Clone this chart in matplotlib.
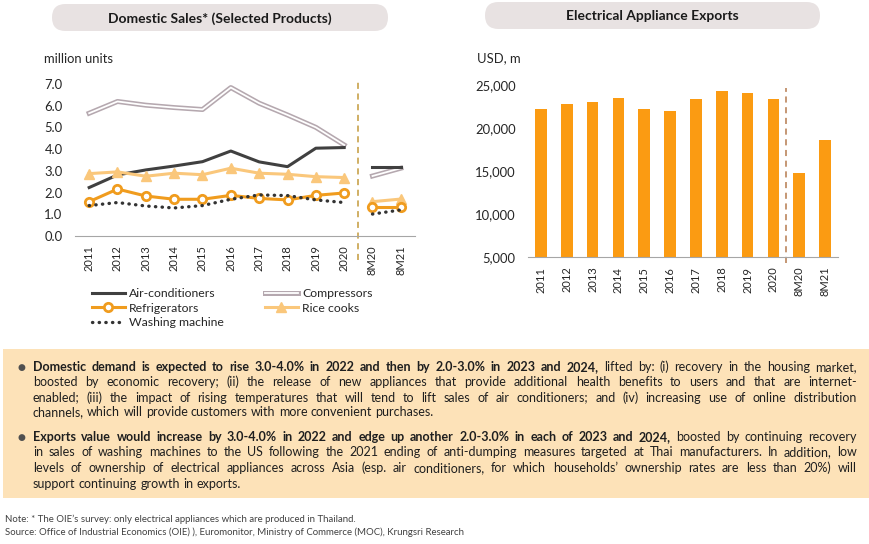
"""Domestic sales and exports of electrical appliances, with outlook notes."""
import matplotlib
matplotlib.use("Agg")
import matplotlib.pyplot as plt
import matplotlib.patheffects as pe
from matplotlib.patches import FancyBboxPatch, Rectangle
import numpy as np

plt.rcParams['font.family'] = ['Lato', 'DejaVu Sans']

# data
periods = ['2011', '2012', '2013', '2014', '2015', '2016', '2017', '2018',
           '2019', '2020', '8M20', '8M21']
air_conditioners = [2.23, 2.81, 3.04, 3.22, 3.42, 3.91, 3.41, 3.19, 4.04, 4.07, 3.17, 3.17]
compressors = [5.65, 6.19, 6.02, 5.91, 5.82, 6.83, 6.11, 5.57, 5.00, 4.19, 2.76, 3.12]
refrigerators = [1.58, 2.16, 1.84, 1.69, 1.69, 1.87, 1.73, 1.66, 1.87, 1.98, 1.34, 1.34]
rice_cooks = [2.87, 2.95, 2.75, 2.89, 2.82, 3.12, 2.89, 2.84, 2.73, 2.69, 1.58, 1.70]
washing_machine = [1.40, 1.54, 1.38, 1.29, 1.40, 1.69, 1.89, 1.86, 1.66, 1.54, 1.01, 1.20]
exports = [22230, 22820, 23050, 23520, 22310, 22080, 23440, 24340, 24180, 23440, 14830, 18600]

bullet_1 = [
    [("Domestic demand is expected to rise 3.0-4.0% in 2022 and then by 2.0-3.0% in 2023 and 2024,", True),
     ("lifted by: (i) recovery in the housing market,", False)],
    [("boosted by economic recovery; (ii) the release of new appliances that provide additional health "
      "benefits to users and that are internet-", False)],
    [("enabled; (iii) the impact of rising temperatures that will tend to lift sales of air conditioners; "
      "and (iv) increasing use of online distribution", False)],
    [("channels, which will provide customers with more convenient purchases.", False)],
]
bullet_2 = [
    [("Exports value would increase by 3.0-4.0% in 2022 and edge up another 2.0-3.0% in each of 2023 and 2024,", True),
     ("boosted by continuing recovery", False)],
    [("in sales of washing machines to the US following the 2021 ending of anti-dumping measures targeted "
      "at Thai manufacturers. In addition, low", False)],
    [("levels of ownership of electrical appliances across Asia (esp. air conditioners, for which "
      "households\u2019 ownership rates are less than 20%) will", False)],
    [("support continuing growth in exports.", False)],
]

W, H = 870, 544
fig = plt.figure(figsize=(W / 100, H / 100), dpi=100)

# background canvas in pixel coordinates
bg = fig.add_axes([0, 0, 1, 1], zorder=-1)
bg.set_xlim(0, W)
bg.set_ylim(H, 0)
bg.axis('off')


def px_axes(left, top, right, bottom):
    return fig.add_axes([left / W, 1 - bottom / H, (right - left) / W, (bottom - top) / H])


def style(ax, ylim, yticks, yfmt, xpad):
    ax.set_xlim(-0.5, len(periods) - 0.5)
    ax.set_ylim(*ylim)
    for s in ['left', 'right', 'top']:
        ax.spines[s].set_visible(False)
    ax.spines['bottom'].set_color('#a6a6a6')
    ax.set_yticks(yticks, [yfmt.format(v) for v in yticks])
    ax.set_xticks(range(len(periods)), periods, rotation=90)
    ax.tick_params(axis='y', length=0, pad=9, labelsize=9.4, labelcolor='#262626')
    ax.tick_params(axis='x', length=0, pad=xpad, labelsize=8, labelcolor='#262626')
    ax.patch.set_alpha(0)


x = np.arange(len(periods))

# Left: domestic sales lines
ax1 = px_axes(75, 73, 415, 236)
style(ax1, (0, 7.5), np.arange(0, 8), "{:.1f}", 6.5)


def plot_series(vals, label, **kw):
    vals = np.asarray(vals)
    first = None
    for sl in (slice(0, 10), slice(10, 12)):
        line, = ax1.plot(x[sl], vals[sl], label=label if first is None else None, **kw)
        first = first or line
    return first


h_comp = plot_series(compressors, 'Compressors', color='white', lw=1.3,
                     path_effects=[pe.Stroke(linewidth=3.6, foreground='#b5a8af'), pe.Normal()])
h_ac = plot_series(air_conditioners, 'Air-conditioners', color='#404040', lw=2.2)
h_rice = plot_series(rice_cooks, 'Rice cooks', color='#fac77b', lw=2.2, marker='^', ms=6.5)
h_ref = plot_series(refrigerators, 'Refrigerators', color='#f09c1e', lw=2.2, marker='o', ms=6,
                    mfc='white', mew=2)
h_wash = plot_series(washing_machine, 'Washing machine', color='#333333', lw=2.4, ls=(0, (0.1, 1.9)),
                     dash_capstyle='round')
ax1.axvline(9.5, ymin=-0.147, ymax=0.957, clip_on=False, color='#c39a3a', lw=1.1, ls=(0, (4, 3)))

# Right: exports bars
ax2 = px_axes(528, 77, 838, 257)
style(ax2, (5000, 26000), np.arange(5000, 25001, 5000), "{:,}", 7)
ax2.bar(x, exports, width=0.45, color='#fb9b12')
ax2.axvline(9.5, ymin=-0.035, ymax=0.939, clip_on=False, color='#b57a4e', lw=1.1, ls=(0, (4, 3)))

bg.text(44, 59, 'million units', va='center', fontsize=9.4, color='#262626')
bg.text(477, 58, 'USD, m', va='center', fontsize=9.4, color='#262626')

# legend, two columns placed separately
leg_kw = dict(loc='upper left', bbox_transform=bg.transData, frameon=False, fontsize=8.8,
              borderpad=0, borderaxespad=0, handlelength=2.7, handletextpad=0.33,
              labelspacing=0.3, labelcolor='#262626')
leg1 = bg.legend([h_ac, h_ref, h_wash], ['Air-conditioners', 'Refrigerators', 'Washing machine'],
                 bbox_to_anchor=(92, 288), **leg_kw)
bg.add_artist(leg1)
bg.legend([h_comp, h_rice], ['Compressors', 'Rice cooks'], bbox_to_anchor=(265, 288), **leg_kw)

# title pills
for (x0, y0, x1, y1), title in [((52, 4, 388, 31), 'Domestic Sales* (Selected Products)'),
                                ((485, 2, 820, 29), 'Electrical Appliance Exports')]:
    r = (y1 - y0) / 2
    bg.add_patch(FancyBboxPatch((x0, y0), x1 - x0, y1 - y0,
                                boxstyle=f"round,pad=0,rounding_size={r}",
                                fc='#e8e2e2', ec='none'))
    bg.text((x0 + x1) / 2, (y0 + y1) / 2 + 1, title, ha='center', va='center',
            fontsize=10, fontweight='bold', color='#1a1a1a')

# outlook box
bg.add_patch(Rectangle((3, 349), 867, 149, fc='#fde2b8', ec='none'))

FS = 9.0
renderer = fig.canvas.get_renderer()


def text_width(s, bold):
    t = bg.text(0, 0, s, fontsize=FS, fontweight='bold' if bold else 'normal')
    w = t.get_window_extent(renderer).width
    t.remove()
    return w


space = text_width('a a', False) - text_width('aa', False)


def draw_paragraph(lines, baselines, x0=33, x1=857):
    for i, (line, yb) in enumerate(zip(lines, baselines)):
        words = [(w, b) for seg, b in line for w in seg.split()]
        widths = [text_width(w, b) for w, b in words]
        last = i == len(lines) - 1
        gap = space if last else (x1 - x0 - sum(widths)) / (len(words) - 1)
        xp = x0
        for (w, b), wd in zip(words, widths):
            bg.text(xp, yb, w, fontsize=FS, fontweight='bold' if b else 'normal',
                    va='baseline', color='#1f1f1f')
            xp += wd + gap
    bg.text(21, baselines[0] - 3.5, '\u25cf', family='DejaVu Sans', fontsize=6.5,
            ha='center', va='center', color='#505050')


draw_paragraph(bullet_1, [371, 386, 401.5, 416.5])
draw_paragraph(bullet_2, [441, 456.5, 472, 487.5])

bg.text(5, 519, 'Note: * The OIE\u2019s survey: only electrical appliances which are produced in Thailand.',
        fontsize=6.9, va='center', color='#404040')
bg.text(5, 532, 'Source: Office of Industrial Economics (OIE) ), Euromonitor, Ministry of Commerce (MOC), '
        'Krungsri Research', fontsize=6.9, va='center', color='#404040')

fig.savefig('out.png', dpi=100)
